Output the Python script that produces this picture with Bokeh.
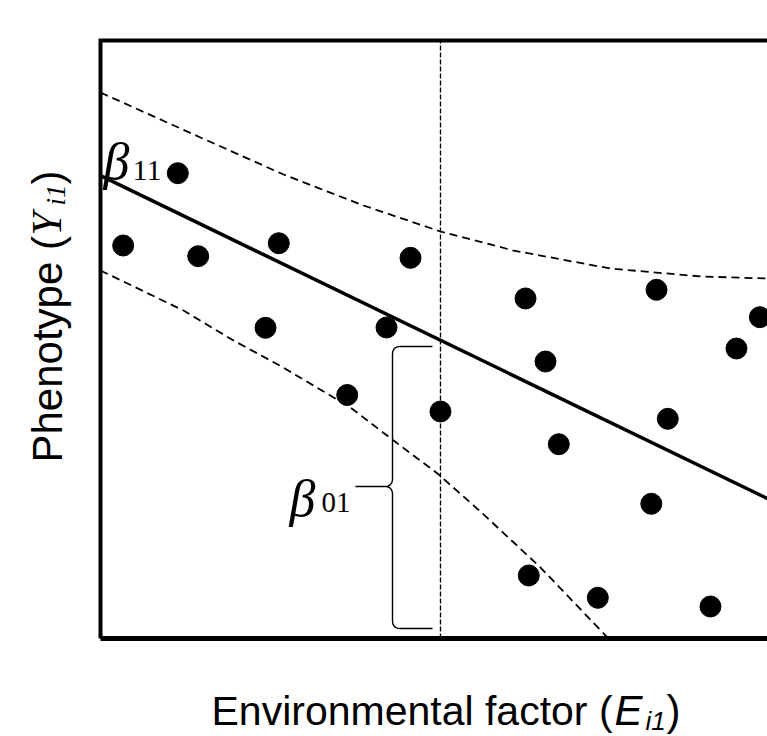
import numpy as np
from bokeh.plotting import figure
from bokeh.models import Range1d, Label
from bokeh.embed import file_html
from bokeh.resources import INLINE

# ---- data (arbitrary units) ----
env = [1.159, 0.340, 1.465, 2.673, 4.648, 2.474, 4.288, 3.699, 5.097, 6.372,
       6.672, 6.871, 8.336, 8.505, 9.535, 9.885, 8.258, 6.421, 7.456, 9.145]
phen = [7.781, 6.572, 6.393, 6.610, 6.366, 5.196, 5.201, 4.072, 3.796, 5.686,
        4.632, 3.249, 5.831, 3.674, 4.849, 5.373, 2.253, 1.054, 0.681, 0.535]

fit_x = [0.0, 10.0]
fit_y = [7.74, 2.34]

upper_x = [0.0, 1.499, 2.744, 3.943, 5.097, 6.192, 7.646, 8.996, 10.0]
upper_y = [9.130, 8.378, 7.759, 7.241, 6.806, 6.488, 6.187, 6.054, 6.020]

lower_x = [0.0, 1.244, 1.994, 2.714, 3.748, 4.393, 5.052, 5.712, 6.597, 7.616]
lower_y = [6.154, 5.485, 4.983, 4.548, 3.863, 3.311, 2.759, 2.107, 1.187, 0.0]

e_ref = 5.097          # environmental reference value (vertical line)
x_lo, x_hi = 0.0, 10.2
y_lo, y_hi = 0.0, 10.0

# ---- scale helpers (page px -> data) ----
PXX, PXY = 66.7, 59.8
def dx(px):
    return (px - 100) / PXX
def dy(py):
    return (638 - py) / PXY

W, H = 767, 736
p = figure(width=W, height=H,
           x_range=Range1d(dx(0), dx(W)), y_range=Range1d(dy(H), dy(0)),
           output_backend="svg", toolbar_location=None,
           min_border_left=0, min_border_right=0,
           min_border_top=0, min_border_bottom=0)
p.grid.visible = False
p.axis.visible = False
p.outline_line_color = None
p.background_fill_color = "white"
p.border_fill_color = "white"

# plot box (left, top, bottom edges)
p.line([x_hi, x_lo, x_lo], [y_hi, y_hi, y_lo], line_color="black",
       line_width=4, line_join="miter")
p.line([x_lo, x_hi], [y_lo, y_lo], line_color="black", line_width=5)

# vertical reference line
p.line([e_ref, e_ref], [y_lo, y_hi], line_color="black", line_width=1.3, line_dash="5 2")

# confidence bands
p.line(upper_x, upper_y, line_color="black", line_width=1.8, line_dash="8 5")
p.line(lower_x, lower_y, line_color="black", line_width=1.8, line_dash="8 5")

# regression line
p.line(fit_x, fit_y, line_color="black", line_width=3.5)

# points
p.scatter(env, phen, size=21, color="black")

# curly brace (intercept)
def qbez(a, c, b, n=10):
    t = np.linspace(0, 1, n)[:, None]
    a, c, b = np.array(a), np.array(c), np.array(b)
    return (1 - t) ** 2 * a + 2 * (1 - t) * t * c + t ** 2 * b

xr, xs, xl = dx(432), dx(392), dx(355)
yt, yb = dy(346), dy(628)
ym = dy(486)
rx, ry = 8 / PXX, 8 / PXY
parts = [
    np.array([[xr, yt], [xs + rx, yt]]),
    qbez((xs + rx, yt), (xs, yt), (xs, yt - ry)),
    np.array([[xs, yt - ry], [xs, ym + ry]]),
    qbez((xs, ym + ry), (xs, ym), (xs - rx, ym)),
    np.array([[xs - rx, ym], [xl, ym], [xs - rx, ym]]),
    qbez((xs - rx, ym), (xs, ym), (xs, ym - ry)),
    np.array([[xs, ym - ry], [xs, yb + ry]]),
    qbez((xs, yb + ry), (xs, yb), (xs + rx, yb)),
    np.array([[xs + rx, yb], [xr, yb]]),
]
brace = np.vstack(parts)
p.line(brace[:, 0], brace[:, 1], line_color="black", line_width=1.4)

def lab(x, y, text, font, size, style="normal", angle=0.0):
    p.add_layout(Label(x=x, y=y, x_units="data", y_units="data", text=text,
                       text_font=font, text_font_size=size, text_font_style=style,
                       text_color="black", text_align="left",
                       text_baseline="alphabetic", angle=angle))

# beta labels
lab(dx(103), dy(161), "β", "Liberation Serif", "52px", "italic")
lab(dx(132), dy(170), "11", "Liberation Serif", "30px")
lab(dx(289), dy(498), "β", "Liberation Serif", "52px", "italic")
lab(dx(321), dy(502), "01", "Liberation Serif", "29px")

# x axis title: Environmental factor (E_i1)
lab(dx(211), dy(710), "Environmental factor (", "Liberation Sans", "41px")
lab(dx(614), dy(710), "E", "Liberation Sans", "42px", "italic")
lab(dx(645), dy(720), "i1", "Liberation Sans", "26px", "italic")
lab(dx(666), dy(710), ")", "Liberation Sans", "42px")

# y axis title: Phenotype (Y_i1), rotated
R = np.pi / 2
lab(dx(47), dy(462), "Phenotype (", "Liberation Sans", "42px", angle=R)
lab(dx(46), dy(235), "Y", "Liberation Serif", "42px", "italic", angle=R)
lab(dx(55), dy(205), "i1", "Liberation Serif", "27px", "italic", angle=R)
lab(dx(47), dy(184), ")", "Liberation Sans", "42px", angle=R)

open("out.html", "w").write(file_html(p, INLINE))
